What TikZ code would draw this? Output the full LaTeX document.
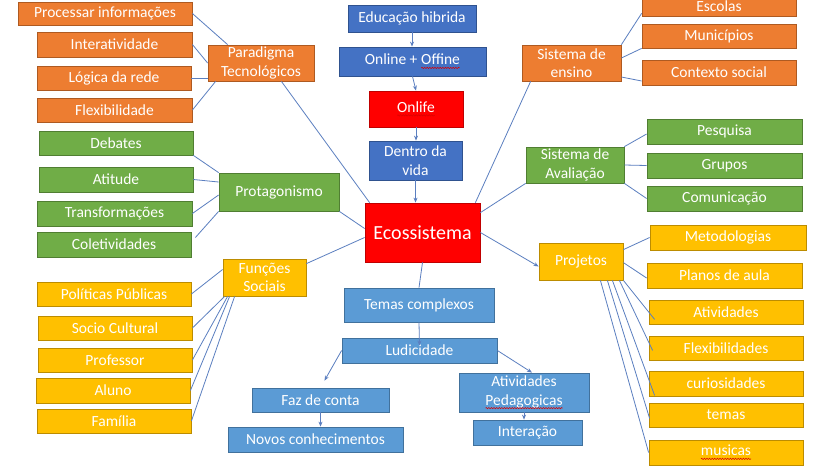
\documentclass[tikz,border=0pt]{standalone}
\usepackage{fontspec}
\setmainfont{Carlito}
\usetikzlibrary{arrows.meta,decorations.pathmorphing}
\newcommand\spellwave[1]{\tikz[baseline=(sw.base)]{\node[inner sep=0pt,outer sep=0pt,minimum width=0pt,minimum height=0pt,draw=none,fill=none] (sw) {#1};
  \draw[red!85!black, line width=0.5pt, decorate, decoration={snake,amplitude=0.7pt,segment length=2.6pt}] ([yshift=-3pt]sw.base west) -- ([yshift=-3pt]sw.base east);}}
\definecolor{orgF}{HTML}{ED7D31}\definecolor{orgD}{HTML}{AE5A21}
\definecolor{bluF}{HTML}{4472C4}\definecolor{bluD}{HTML}{2F528F}
\definecolor{lbuF}{HTML}{5B9BD5}\definecolor{lbuD}{HTML}{41719C}
\definecolor{grnF}{HTML}{70AD47}\definecolor{grnD}{HTML}{507E32}
\definecolor{yelF}{HTML}{FFC000}\definecolor{yelD}{HTML}{BC8C00}
\definecolor{redF}{HTML}{FF0000}\definecolor{redD}{HTML}{C00000}
\definecolor{lineC}{HTML}{5B7FC0}
\tikzset{
  base/.style={draw, line width=0.8pt, text=white, inner sep=1pt, align=center,
    font=\fontsize{15.5}{18.5}\selectfont},
  org/.style={base, fill=orgF, draw=orgD},
  blu/.style={base, fill=bluF, draw=bluD},
  lbu/.style={base, fill=lbuF, draw=lbuD},
  grn/.style={base, fill=grnF, draw=grnD},
  yel/.style={base, fill=yelF, draw=yelD},
  rdb/.style={base, fill=redF, draw=redD},
  conn/.style={draw=lineC, line width=0.8pt},
  arr/.style={conn, -{Stealth[length=5pt,width=4pt]}}
}
\newcommand\bx[7]{\node[#6, minimum width={((#4)-(#2))*1pt}, minimum height={((#5)-(#3))*1pt}] (#1) at ({((#2)+(#4))/2},{((#3)+(#5))/2}) {#7};}
\begin{document}
\begin{tikzpicture}[x=1pt,y=-1pt]
\fill[white] (0,0) rectangle (829,467);
\useasboundingbox (0,0) rectangle (829,467);
% orange
\bx{proc}{18}{2}{192}{25}{org}{Processar informações}
\bx{intv}{37}{32}{192}{57}{org}{Interatividade}
\bx{logi}{37}{66}{191}{90}{org}{Lógica da rede}
\bx{flexi}{37}{98}{192}{122}{org}{Flexibilidade}
\bx{para}{208}{45}{314}{81}{org}{Paradigma\\Tecnológicos}
\bx{se}{522}{45}{621}{81}{org}{Sistema de\\ensino}
\bx{esc}{642}{-4}{796}{16}{org}{Escolas}
\bx{mun}{642}{24}{796}{48}{org}{Municípios}
\bx{ctx}{642}{60}{796}{85}{org}{Contexto social}
% center column
\bx{edu}{348}{5}{476}{32}{blu}{Educação hibrida}
\bx{onl}{339}{47}{486}{76}{blu}{Online + \spellwave{Offine}}
\bx{onlife}{369}{91}{463}{127}{rdb}{\spellwave{Onlife}}
\bx{den}{369}{141}{462}{180}{blu}{Dentro da\\vida}
\bx{eco}{365}{203}{480}{262}{rdb,font=\fontsize{20}{24}\selectfont}{Ecossistema}
\bx{temas}{344}{288}{494}{322}{lbu}{Temas complexos}
\bx{lud}{342}{338}{497}{363}{lbu}{Ludicidade}
\bx{faz}{252}{388}{389}{412}{lbu}{Faz de conta}
\bx{novos}{228}{427}{403}{452}{lbu}{Novos conhecimentos}
\bx{ativp}{459}{373}{589}{412}{lbu}{Atividades\\\spellwave{Pedagogicas}}
\bx{intr}{473}{420}{582}{445}{lbu}{Interação}
% green
\bx{deb}{39}{131}{193}{155}{grn}{Debates}
\bx{ati}{39}{167}{193}{192}{grn}{Atitude}
\bx{trans}{37}{201}{192}{226}{grn}{Transformações}
\bx{colet}{37}{232}{191}{257}{grn}{Coletividades}
\bx{prot}{219}{173}{339}{211}{grn}{Protagonismo}
\bx{sa}{526}{147}{624}{183}{grn}{Sistema de\\Avaliação}
\bx{pes}{647}{119}{802}{144}{grn}{Pesquisa}
\bx{gru}{647}{153}{802}{178}{grn}{Grupos}
\bx{com}{647}{186}{802}{211}{grn}{Comunicação}
% yellow
\bx{fs}{223}{259}{306}{296}{yel}{Funções\\Sociais}
\bx{pol}{37}{282}{191}{306}{yel}{Políticas Públicas}
\bx{soc}{38}{316}{192}{340}{yel}{Socio Cultural}
\bx{prof}{38}{348}{192}{372}{yel}{Professor}
\bx{alu}{36}{378}{190}{403}{yel}{Aluno}
\bx{fam}{37}{409}{191}{433}{yel}{Família}
\bx{proj}{539}{243}{623}{280}{yel}{Projetos}
\bx{met}{650}{225}{806}{250}{yel}{Metodologias}
\bx{plan}{647}{263}{802}{288}{yel}{Planos de aula}
\bx{ativs}{649}{300}{803}{324}{yel}{Atividades}
\bx{flexs}{649}{336}{803}{360}{yel}{Flexibilidades}
\bx{cur}{649}{371}{803}{396}{yel}{curiosidades}
\bx{tem}{649}{403}{803}{427}{yel}{temas}
\bx{mus}{649}{440}{803}{465}{yel}{\spellwave{musicas}}
% connectors: paradigma
\draw[conn] (proc.east) -- ([xshift=20pt]para.north west);
\draw[conn] (intv.east) -- (para.west);
\draw[conn] (logi.east) -- ([yshift=-15pt]para.west);
\draw[conn] (flexi.east) -- ([xshift=8pt]para.south west);
\draw[conn] ([xshift=-33pt]para.south east) -- ([xshift=5pt]eco.north west);
% protagonismo
\draw[conn] (deb.south east) -- (prot.north west);
\draw[conn] (ati.east) -- ([yshift=10pt]prot.west);
\draw[conn] (trans.east) -- ([yshift=-3pt]prot.west);
\draw[conn] ([shift={(4,-7)}]colet.east) -- (prot.south west);
\draw[conn] (prot.south east) -- ([yshift=4pt]eco.west);
% funcoes sociais
\draw[conn] (pol.east) -- ([yshift=8pt]fs.west);
\draw[conn] (soc.east) -- ([xshift=2pt]fs.south west);
\draw[conn] (prof.east) -- ([xshift=5pt]fs.south west);
\draw[conn] (alu.east) -- ([xshift=7pt]fs.south west);
\draw[conn] (fam.east) -- ([xshift=12pt]fs.south west);
\draw[conn] ([yshift=-5pt]fs.north east) -- ([yshift=-5pt]eco.west);
% center chain
\draw[arr] (edu.south) -- (edu.south |- onl.north);
\draw[arr] (onl.south) -- (onlife.north);
\draw[arr] (onlife.south) -- (onlife.south |- den.north);
\draw[arr] (den.south) -- (den.south |- eco.north);
\draw[conn] (eco.south) -- (temas.north);
\draw[arr] (temas.south) -- ([yshift=-8pt]lud.north);
\draw[arr,shorten >=8pt] (lud.west) -- (faz.north);
\draw[arr] (lud.east) -- ([xshift=8pt]ativp.north);
\draw[arr] (faz.south) -- (faz.south |- novos.north);
\draw[arr] (ativp.south) -- (ativp.south |- intr.north);
% sistema de ensino
\draw[conn] ([xshift=9pt]se.south west) -- ([xshift=-5pt]eco.north east);
\draw[conn] (se.north east) -- ([yshift=3pt]esc.south west);
\draw[conn] ([yshift=5pt]se.east) -- (mun.south west);
\draw[conn] ([yshift=-14pt]se.east) -- ([yshift=-8.5pt]ctx.west);
% sistema de avaliacao
\draw[conn] (sa.south west) -- ([yshift=-10pt]eco.north east);
\draw[conn] (sa.north east) -- ([yshift=-2.5pt]pes.west);
\draw[conn] (sa.east) -- (gru.west);
\draw[conn] (sa.south east) -- (com.west);
% projetos
\draw[arr] (eco.east) -- ([yshift=-5pt]proj.west);
\draw[conn] ([yshift=-7pt]proj.north east) -- (met.west);
\draw[conn] ([yshift=-20pt]proj.north east) -- ([yshift=-2.5pt]plan.west);
\draw[conn] (proj.south east) -- ([shift={(6,-5)}]ativs.south west);
\draw[conn] ([xshift=-4pt]proj.south east) -- ([shift={(4,-10)}]flexs.south west);
\draw[conn] ([xshift=-11pt]proj.south east) -- ([shift={(6,-1)}]cur.south west);
\draw[conn] ([xshift=-16pt]proj.south east) -- ([shift={(1,-9)}]tem.south west);
\draw[conn] ([xshift=-23pt]proj.south east) -- (mus.west);
\end{tikzpicture}
\end{document}
